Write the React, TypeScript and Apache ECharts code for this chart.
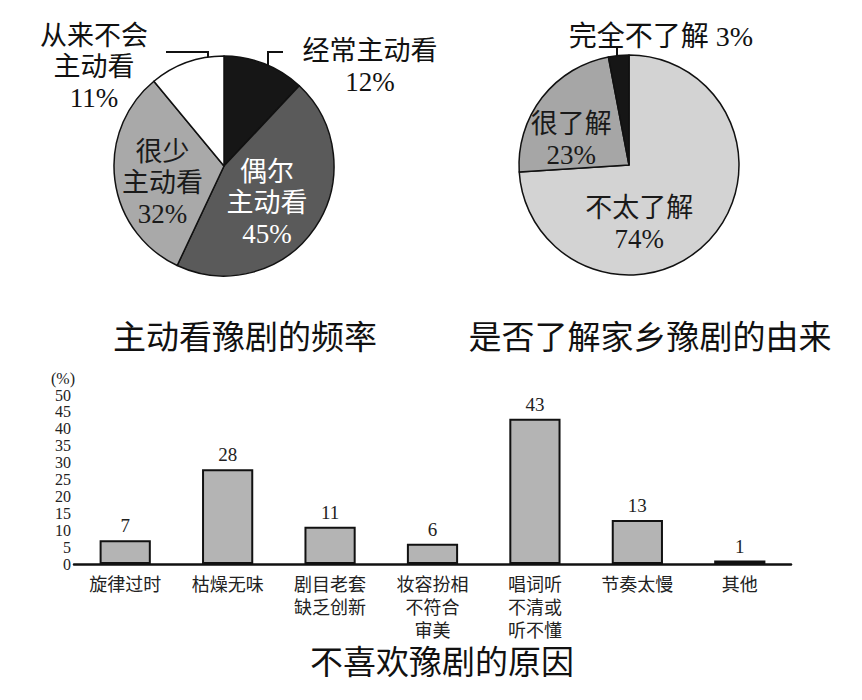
import React, { useEffect, useRef } from 'react';
import * as echarts from 'echarts';

// ---- data ----
const freqNames = ['经常主动看', '偶尔主动看', '很少主动看', '从来不会主动看'];
const freqLabels = ['经常主动看', '偶尔\n主动看', '很少\n主动看', '从来不会\n主动看'];
const freqValues = [12, 45, 32, 11];

const originNames = ['不太了解', '很了解', '完全不了解'];
const originLabels = ['不太了解', '很了解', '完全不了解'];
const originValues = [74, 23, 3];

const reasonCategories = [
  '旋律过时',
  '枯燥无味',
  '剧目老套\n缺乏创新',
  '妆容扮相\n不符合\n审美',
  '唱词听\n不清或\n听不懂',
  '节奏太慢',
  '其他',
];
const reasonValues = [7, 28, 11, 6, 43, 13, 1];

const titles = ['主动看豫剧的频率', '是否了解家乡豫剧的由来', '不喜欢豫剧的原因'];

// ---- styles ----
const FONT = "'Liberation Serif', 'Noto Sans CJK SC', serif";
const freqColors = ['#161616', '#5a5a5a', '#a9a9a9', '#ffffff'];
const freqTextColors = ['#111', '#ffffff', '#1a1a1a', '#111'];
const originColors = ['#d3d3d3', '#a6a6a6', '#161616'];
const originTextColors = ['#1a1a1a', '#1a1a1a', '#111'];

export default function App() {
  const ref = useRef<HTMLDivElement>(null);
  useEffect(() => {
    document.body.style.margin = '0';
    const chart = echarts.init(ref.current!, undefined, { renderer: 'svg' });

    const freqOutside = [true, false, false, true];
    const originOutside = [false, false, true];

    const freqLayout = (p: any) => {
      switch (p.dataIndex) {
        case 0:
          return { x: 370, y: 66, align: 'center', verticalAlign: 'middle', labelLinePoints: [[268, 70], [268, 52], [283, 52]] };
        case 1:
          return { dx: -5, dy: 4 };
        case 2:
          return { dx: -4, dy: 10 };
        case 3:
          return { x: 94, y: 67, align: 'center', verticalAlign: 'middle', labelLinePoints: [[208, 82], [208, 52], [166, 52]] };
      }
      return {};
    };
    const originLayout = (p: any) => {
      switch (p.dataIndex) {
        case 0:
          return { dx: -32, dy: 19 };
        case 1:
          return { dx: -12, dy: 10 };
        case 2:
          return { x: 661, y: 36, align: 'center', verticalAlign: 'middle', labelLinePoints: [[617, 60], [617, 50], [617, 46]] };
      }
      return {};
    };

    const titleStyle = { fontFamily: FONT, fontSize: 33, fontWeight: 'normal', color: '#111' };

    chart.setOption({
      animation: false,
      backgroundColor: '#ffffff',
      title: [
        { text: titles[0], left: 240, top: 316, textAlign: 'center', textStyle: titleStyle },
        { text: titles[1], left: 645, top: 316, textAlign: 'center', textStyle: titleStyle },
        { text: titles[2], left: 437, top: 641, textAlign: 'center', textStyle: titleStyle },
      ],
      grid: { left: 74, right: 71, top: 395, bottom: 136, containLabel: false },
      xAxis: {
        type: 'category',
        data: reasonCategories,
        axisLine: { show: true, lineStyle: { color: '#111', width: 2.5 } },
        axisTick: { show: false },
        axisLabel: { interval: 0, fontFamily: FONT, fontSize: 18, lineHeight: 23, color: '#222', margin: 9 },
      },
      yAxis: {
        type: 'value',
        min: 0,
        max: 50,
        interval: 5,
        name: '(%)',
        nameLocation: 'end',
        nameGap: 9,
        nameTextStyle: { fontFamily: FONT, fontSize: 16, color: '#222', align: 'right', padding: [0, -1, 0, 0] },
        axisLine: { show: false },
        axisTick: { show: false },
        splitLine: { show: false },
        axisLabel: {
          interval: 0,
          fontFamily: FONT,
          fontSize: 16,
          lineHeight: 16,
          color: '#222',
          margin: 3,
          showMinLabel: true,
          showMaxLabel: true,
          hideOverlap: false,
        },
      },
      series: [
        {
          type: 'pie',
          center: [224, 166],
          radius: [0, 110],
          startAngle: 90,
          clockwise: true,
          avoidLabelOverlap: false,
          itemStyle: { borderColor: '#111', borderWidth: 1.5 },
          label: {
            show: true,
            position: 'inside',
            formatter: (p: any) => `${freqLabels[p.dataIndex]}\n${p.value}%`,
            fontFamily: FONT,
            fontSize: 27,
            lineHeight: 31,
            align: 'center',
          },
          labelLine: { show: true, lineStyle: { color: '#111', width: 2 } },
          labelLayout: freqLayout,
          emphasis: { disabled: true },
          data: freqValues.map((v, i) => ({
            value: v,
            name: freqNames[i],
            itemStyle: { color: freqColors[i] },
            label: {
              position: freqOutside[i] ? 'outside' : 'inside',
              color: freqTextColors[i],
            },
            labelLine: { show: freqOutside[i] },
          })),
        },
        {
          type: 'pie',
          center: [629, 165],
          radius: [0, 110],
          startAngle: 90,
          clockwise: true,
          avoidLabelOverlap: false,
          itemStyle: { borderColor: '#111', borderWidth: 1.5 },
          label: {
            show: true,
            position: 'inside',
            fontFamily: FONT,
            fontSize: 27,
            lineHeight: 31,
            align: 'center',
          },
          labelLine: { show: true, lineStyle: { color: '#111', width: 2 } },
          labelLayout: originLayout,
          emphasis: { disabled: true },
          data: originValues.map((v, i) => ({
            value: v,
            name: originNames[i],
            itemStyle: { color: originColors[i] },
            label: {
              position: originOutside[i] ? 'outside' : 'inside',
              color: originTextColors[i],
              fontSize: originOutside[i] ? 28 : 27,
              formatter: originOutside[i]
                ? `${originLabels[i]} ${v}%`
                : `${originLabels[i]}\n${v}%`,
            },
            labelLine: { show: originOutside[i] },
          })),
        },
        {
          type: 'bar',
          data: reasonValues,
          barWidth: '50%',
          itemStyle: { color: '#b4b4b4', borderColor: '#111', borderWidth: 2 },
          label: { show: true, position: 'top', fontFamily: FONT, fontSize: 19, color: '#222', distance: 5 },
          emphasis: { disabled: true },
        },
      ],
    });
    return () => chart.dispose();
  }, []);
  return <div ref={ref} style={{ width: 862, height: 700 }} />;
}
